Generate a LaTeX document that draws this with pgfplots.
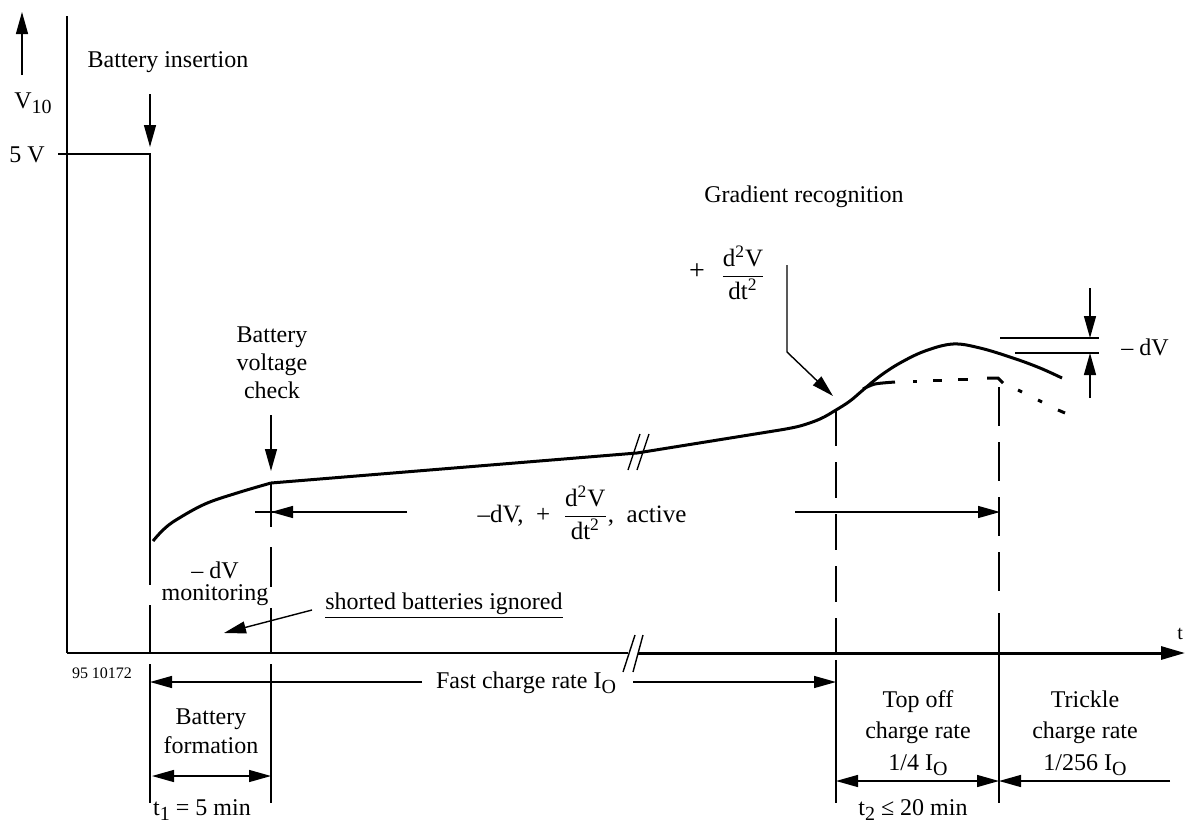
\documentclass[border=0pt]{standalone}
\usepackage{pgfplots}
\pgfplotsset{compat=1.18}
\usepackage{fontspec}
\setmainfont{Liberation Serif}
\usetikzlibrary{arrows.meta}
\newcommand\sub[1]{\raisebox{-0.45ex}{\fontsize{10}{10}\selectfont #1}}
\newcommand\dfr{$\displaystyle\frac{\mbox{d\textsuperscript{2}V}}{\mbox{dt\textsuperscript{2}}}$}
\begin{document}
\begin{tikzpicture}[font=\fontsize{12}{14}\selectfont,
    tip/.style={-{Triangle[length=11pt,width=6pt]}},
    thin line/.style={line width=0.7pt},
    dsh/.style={line width=0.7pt, dash pattern=on 18pt off 8pt}]
% pixel grid of the reference, y counted downwards
\begin{axis}[
    scale only axis, width=595pt, height=412.5pt,
    xmin=0, xmax=1190, ymin=0, ymax=825, y dir=reverse,
    hide axis, clip=false
]
\coordinate (bl) at (axis cs:0,825);
\coordinate (tr) at (axis cs:1190,0);

% voltage curve
\addplot[line width=1.5pt, smooth, tension=0.6] coordinates {
    (153,541) (163,530) (176,520) (205,504) (237,493) (271,483)
};
\addplot[line width=1.5pt] coordinates {
    (271,483) (637,453) (780,430)
};
\addplot[line width=1.5pt, smooth, tension=0.6] coordinates {
    (780,430) (800,426) (820,419) (836,410) (850,401) (863,390)
    (880,376) (900,363) (925,351) (953,344) (980,348) (1013,358)
    (1040,368) (1062,378)
};
% top off curve (dash-dot)
\addplot[line width=1.5pt, smooth] coordinates {(863,389) (875,384) (895,382)};
\addplot[line width=1.5pt] coordinates {(913,381) (917,381)};
\addplot[line width=1.5pt] coordinates {(933,380) (942,380)};
\addplot[line width=1.5pt] coordinates {(958,379) (968,379)};
\addplot[line width=1.5pt] coordinates {(987,378) (998,378) (1003,383)};
\addplot[line width=1.5pt] coordinates {(1018,390) (1022,392)};
\addplot[line width=1.5pt] coordinates {(1038,400) (1042,402)};
\addplot[line width=1.5pt] coordinates {(1058,410) (1065,413)};

% axes
\draw[thin line, tip] (22,75) -- (22,12);
\draw[thin line] (67,16) -- (67,653);
\draw[thin line] (67,653) -- (628,653);
\draw[line width=1.5pt, -{Triangle[length=12pt,width=6.5pt]}] (638,653) -- (1185,653);
\draw[thin line] (623,672) -- (635,635) (633,672) -- (643,635);
\draw[thin line] (628,470) -- (640,434) (637,470) -- (649,434);

% 5 V step and battery insertion
\draw[thin line] (58,154) -- (150,154) -- (150,585);
\draw[thin line] (150,605) -- (150,653) (150,664) -- (150,803);
\draw[thin line, tip] (150,94) -- (150,147);

% battery voltage check
\draw[thin line, tip] (271,415) -- (271,471);
\draw[thin line] (271,482) -- (271,527) (271,547) -- (271,587)
    (271,608) -- (271,653) (271,664) -- (271,803);
\draw[thin line] (255,512) -- (407,512);
\draw[thin line, tip] (407,512) -- (271,512);
\draw[thin line, tip] (795,512) -- (1000,512);

% shorted batteries
\draw[thin line, tip] (312,610) -- (224,633);

% gradient recognition
\draw[thin line, tip] (787,265) -- (787,352) -- (833,396);
\draw[dsh] (836,410) -- (836,653);
\draw[thin line] (836,660) -- (836,803);
\draw[thin line, dash pattern=on 19.5pt off 8pt] (999,387) -- (999,595);
\draw[thin line] (999,613) -- (999,803);

% -dV marks
\draw[thin line] (1000,338) -- (1099,338) (1015,353) -- (1099,353);
\draw[thin line, tip] (1090,288) -- (1090,338);
\draw[thin line, tip] (1090,398) -- (1090,353);

% rate arrows
\draw[thin line, tip] (422,682) -- (150,682);
\draw[thin line, tip] (633,682) -- (836,682);
\draw[thin line, {Triangle[length=11pt,width=6pt]}-{Triangle[length=11pt,width=6pt]}] (152,776) -- (271,776);
\draw[thin line, {Triangle[length=11pt,width=6pt]}-{Triangle[length=11pt,width=6pt]}] (836,781) -- (999,781);
\draw[thin line, tip] (1170,781) -- (999,781);

% labels
\node at (168,62) {Battery insertion};
\node at (33,103) {V\sub{10}};
\node at (27,155) {5 V};
\node[align=center, font=\fontsize{12}{14}\selectfont] at (272,363) {Battery\\voltage\\check};
\node at (804,197) {Gradient recognition};
\node[font=\fontsize{14}{14}\selectfont] at (697,272) {+};
\node[font=\fontsize{12.5}{14}\selectfont] at (743,273) {\dfr};
\node[font=\fontsize{12.5}{14}\selectfont] at (582,513) {--dV,\ \ +\ \ \dfr,\ \ active};
\node at (1145,347) {-- dV};
\node[align=center, font=\fontsize{12}{11}\selectfont] at (215,584) {-- dV\\monitoring};
\node at (444,606) {\underline{shorted batteries ignored}};
\node[font=\fontsize{8}{9}\selectfont] at (102,673) {95 10172};
\node at (526,683) {Fast charge rate I\sub{O}};
\node[align=center, font=\fontsize{12}{14.5}\selectfont] at (211,731) {Battery\\formation};
\node at (202,810) {t\sub{1} = 5 min};
\node[align=center, font=\fontsize{12}{15.75}\selectfont] at (918,733) {Top off\\charge rate\\1/4 I\sub{O}};
\node[align=center, font=\fontsize{12}{15.75}\selectfont] at (1085,733) {Trickle\\charge rate\\1/256 I\sub{O}};
\node at (913,810) {t\sub{2} ≤ 20 min};
\node[anchor=east, font=\fontsize{10}{12}\selectfont] at (1190,634) {t};
\end{axis}
\pgfresetboundingbox
\useasboundingbox (bl) rectangle (tr);
\end{tikzpicture}
\end{document}
